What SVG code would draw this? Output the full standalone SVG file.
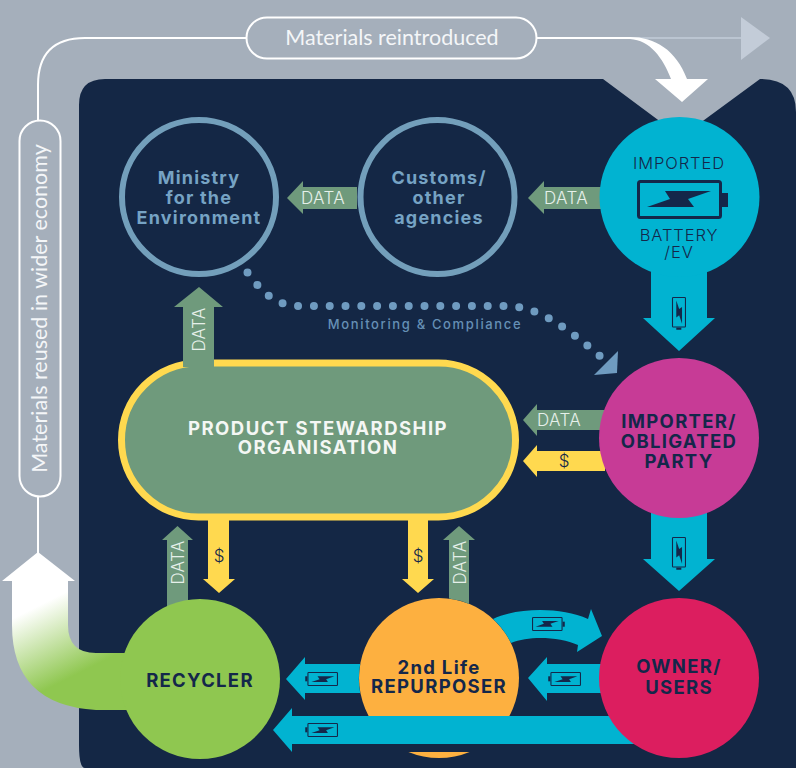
<svg xmlns="http://www.w3.org/2000/svg" xmlns:xlink="http://www.w3.org/1999/xlink" width="796" height="768" viewBox="0 0 796 768">
<style>
.cy{fill:#01b3d1}.gr{fill:#6f9a7c}.ye{fill:#ffd94f}
text{font-family:"Inter","Liberation Sans",sans-serif;text-anchor:middle}
.d{font-weight:300;font-size:17px;fill:#e6f0ea;letter-spacing:.4px}
.usd{font-weight:300;font-size:17px;fill:#14274a}
.b{font-weight:700;font-size:18.5px;fill:#14274a;letter-spacing:1.3px}
.mi{font-weight:700;font-size:18px;fill:#76a3c4;letter-spacing:1.2px}
.im{font-weight:300;font-size:16.5px;fill:#14274a;letter-spacing:.9px}
.w{font-family:"Lato","Liberation Sans",sans-serif;font-size:21.5px;fill:#f4f6f8}
.p{font-weight:700;font-size:18.5px;fill:#f4f7f4;letter-spacing:1.5px}
</style>
<defs>
<g id="batt">
<rect x="1.500" y="1.500" width="82" height="36" rx="2" fill="none" stroke="#14274a" stroke-width="3"/>
<rect x="85" y="13" width="6" height="14" fill="#14274a"/>
<polygon points="28,11 74,11 51,19 57,27 10,27 33,19" fill="#14274a"/>
</g>
<linearGradient id="tail" gradientUnits="userSpaceOnUse" x1="40" y1="605" x2="75" y2="675">
<stop offset="0" stop-color="#ffffff"/><stop offset="1" stop-color="#8fc750"/>
</linearGradient>
</defs>
<rect width="796" height="768" fill="#a5afbb"/>
<path d="M79 105Q79 79 105 79H603L681 137L760 79Q796 79 796 112V768H85Q79 768 79 745Z" fill="#142745"/>

<g id="product-stewardship">
<rect x="121.500" y="363" width="394" height="154" rx="77" fill="#6f9a7c" stroke="#ffd94f" stroke-width="7"/>
<text class="p" x="318" y="435">PRODUCT STEWARDSHIP</text>
<text class="p" x="318" y="454">ORGANISATION</text>
</g>
<g id="repurposer">
<circle cx="439" cy="678" r="80" fill="#fdb040"/>
<text class="b" x="439" y="674">2nd Life</text>
<text class="b" x="439" y="693">REPURPOSER</text>
</g>

<g id="connectors">
<path d="M38 120V85Q38 38 85 38H246M537 38H630" fill="none" stroke="#fff" stroke-width="2"/>
<line x1="630" y1="38" x2="741" y2="38" stroke="#c3ccd8" stroke-width="1.500"/>
<polygon points="741,17 770,38 741,60" fill="#c3ccd8"/>
<path d="M630 37C655 37 676 50 687 79H708L682 102L655 79H671C663 58 650 40 630 39Z" fill="#fff"/>
<line x1="38" y1="497" x2="38" y2="553" stroke="#fff" stroke-width="2"/>
<path d="M38 552L75 581H68V625Q68 653 96 653H140V710H96Q12 705 12 625V581H2Z" fill="url(#tail)"/>
<path class="gr" d="M357 187H303V181L287 198L303 214V209H357Z"/>
<path class="gr" d="M605 187H544V181L528 198L544 214V209H605Z"/>
<path class="gr" d="M183 367V307H174L199 287L223 307H214V367Z"/>
<path class="gr" d="M605 410H537V404L523 420L537 436V430H605Z"/>
<path class="ye" d="M605 451H537V445L523 461L537 477V471H605Z"/>
<path class="gr" d="M167 610V540H162L177.500 526L193 540H188V610Z"/>
<path class="ye" d="M208 517V579H203L219 593L235 579H229V517Z"/>
<path class="ye" d="M408 517V579H402L418 593L434 579H428V517Z"/>
<path class="gr" d="M449 598.600V540H443L459 526L475 540H469V604A80 80 0 0 0 449 598.600Z"/>
<path class="cy" d="M651 270V318H643L679 351L715 318H707V270Z"/>
<path class="cy" d="M651 510V559H643L679 591L715 559H707V510Z"/>
<path class="cy" d="M610 664H547V657L528 678L547 701V693H610Z"/>
<path class="cy" d="M360.200 664H305V657L286 679L305 700V693H360.200A80 80 0 0 1 360.200 664Z"/>
<path class="cy" d="M493 619C515 608 560 606 588 619L591 609L602 636L577 652L578 645C560 637 530 635 511 643A80 80 0 0 0 493 619Z"/>
<path class="cy" d="M640 716H292V708L273 730L292 752V744H640Z"/>
<rect x="350" y="744" width="180" height="8" fill="#142745"/>
<path d="M247.500 272.500C262 292 275 306 300 306H505C535 306 560 322 600 356" fill="none" stroke="#6f9bc0" stroke-width="8" stroke-linecap="round" stroke-dasharray="0 15.800"/>
<polygon points="618,351 594,375 617,373" fill="#6f9bc0"/>
<text x="425" y="329" style="font-weight:500;font-size:13px;fill:#6690b5;letter-spacing:1.650px">Monitoring &amp; Compliance</text>
<text class="d" x="323" y="204">DATA</text>
<text class="d" x="566" y="204">DATA</text>
<text class="d" x="559" y="426">DATA</text>
<text class="d" transform="translate(204.500 329.500) rotate(-90)">DATA</text>
<text class="d" transform="translate(184 562.500) rotate(-90)">DATA</text>
<text class="d" transform="translate(466 562.500) rotate(-90)">DATA</text>
<text class="usd" x="564" y="467">$</text>
<text class="usd" x="219" y="562">$</text>
<text class="usd" x="418" y="562">$</text>
<use xlink:href="#batt" href="#batt" transform="translate(686 297) rotate(90) scale(.36)"/>
<use xlink:href="#batt" href="#batt" transform="translate(686 537) rotate(90) scale(.36)"/>
<use xlink:href="#batt" href="#batt" transform="translate(532 617) scale(.36)"/>
<use xlink:href="#batt" href="#batt" transform="translate(581 686) rotate(180) scale(.36)"/>
<use xlink:href="#batt" href="#batt" transform="translate(338 686) rotate(180) scale(.36)"/>
<use xlink:href="#batt" href="#batt" transform="translate(338 737) rotate(180) scale(.36)"/>
</g>

<g id="materials-reintroduced">
<rect x="246.500" y="17.500" width="290" height="41" rx="20.500" fill="#a5afbb" stroke="#fff" stroke-width="2"/>
<text class="w" x="392" y="45">Materials reintroduced</text>
</g>
<g id="materials-reused">
<rect x="19.500" y="120.500" width="41" height="376" rx="20.500" fill="#a5afbb" stroke="#fff" stroke-width="2"/>
<text class="w" transform="translate(47 308.500) rotate(-90)">Materials reused in wider economy</text>
</g>
<g id="ministry">
<circle cx="199" cy="197" r="77" fill="#142745" stroke="#739fbb" stroke-width="6"/>
<text class="mi" x="199" y="184">Ministry</text>
<text class="mi" x="199" y="204">for the</text>
<text class="mi" x="199" y="224">Environment</text>
</g>
<g id="customs">
<circle cx="437.500" cy="197" r="77" fill="#142745" stroke="#739fbb" stroke-width="6"/>
<text class="mi" x="439" y="184">Customs/</text>
<text class="mi" x="439" y="204">other</text>
<text class="mi" x="439" y="224">agencies</text>
</g>
<g id="imported">
<circle cx="679.500" cy="197" r="80" fill="#01b3d1"/>
<text class="im" x="679" y="169">IMPORTED</text>
<use xlink:href="#batt" href="#batt" transform="translate(637 180)"/>
<text class="im" x="679" y="241">BATTERY</text>
<text class="im" x="679" y="258">/EV</text>
</g>
<g id="importer">
<circle cx="679" cy="438" r="80" fill="#c73b96"/>
<text class="b" x="679" y="428">IMPORTER/</text>
<text class="b" x="679" y="448">OBLIGATED</text>
<text class="b" x="679" y="468">PARTY</text>
</g>
<g id="owner">
<circle cx="679" cy="678" r="80" fill="#dc1e5f"/>
<text class="b" x="679" y="673">OWNER/</text>
<text class="b" x="679" y="694">USERS</text>
</g>
<g id="recycler">
<circle cx="200" cy="679" r="80" fill="#8fc750"/>
<text class="b" x="200" y="687">RECYCLER</text>
</g>
</svg>
